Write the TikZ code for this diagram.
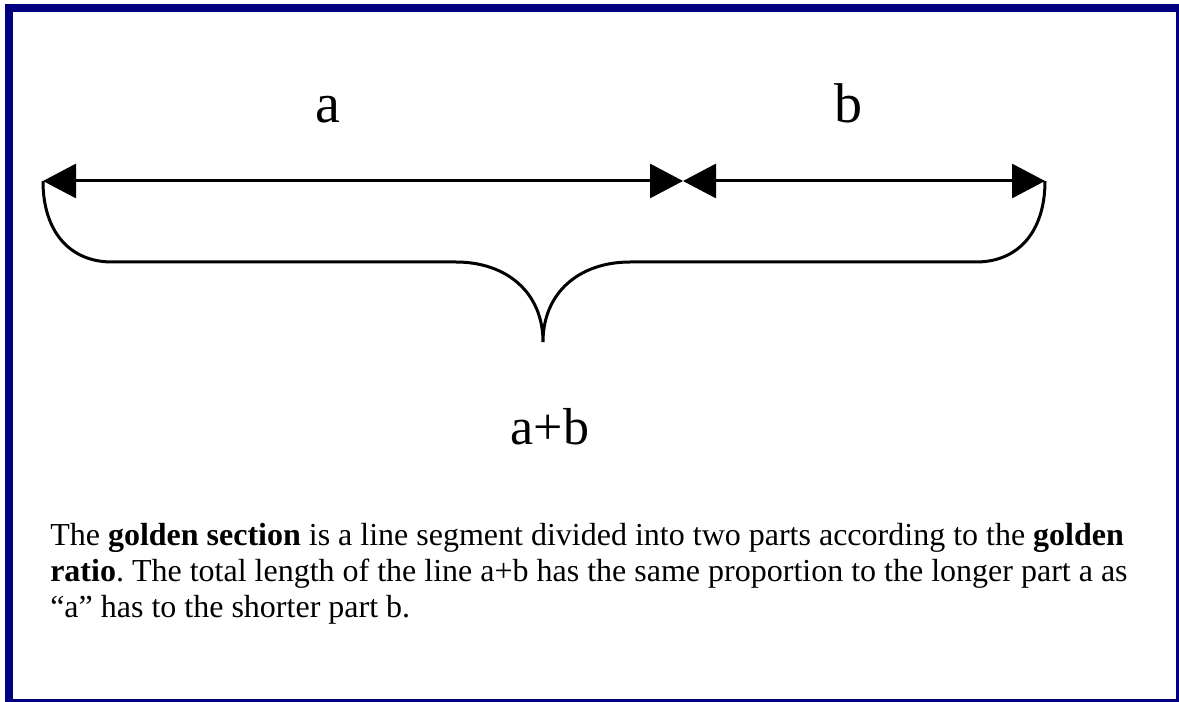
\documentclass[tikz,border=0pt]{standalone}
\usepackage{fontspec}
\setmainfont{Liberation Serif}
\usepackage{xcolor}
\definecolor{framenavy}{RGB}{0, 0, 128}
\usepackage{tikz}
\usetikzlibrary{arrows.meta, positioning}
\frenchspacing

\tikzset{
    dimline/.style={line width=2.25pt, black, {Triangle[length=24.75pt, width=25.5pt]}-{Triangle[length=24.75pt, width=25.5pt]}},
    braceline/.style={line width=2.25pt, black},
    biglabel/.style={anchor=base, inner sep=0pt, font=\fontsize{42}{46}\selectfont},
    paraline/.style={anchor=base west, inner sep=0pt, font=\fontsize{24}{27}\selectfont}
}

\begin{document}
\begin{tikzpicture}[x=0.75pt, y=-0.75pt]
    \useasboundingbox (0,0) rectangle (1179,702);
    % frame
    \fill[framenavy] (5,4) rectangle (1179,702);
    \fill[white] (13,12) rectangle (1176,699);
    % segment ends
    \coordinate (L) at (43,181);
    \coordinate (M) at (683,181);
    \coordinate (R) at (1045,181);
    \coordinate (C) at (543,342);
    \draw[dimline] (L) -- (M);
    \draw[dimline] (M) -- (R);
    % brace
    \draw[braceline] (L) .. controls (43,232) and (70,262) .. (112,262) -- (456,262)
        .. controls (506,262) and (543,292) .. (C)
        .. controls (543,292) and (580,262) .. (630,262) -- (976,262)
        .. controls (1018,262) and (1045,232) .. (R);
    % labels
    \node[biglabel] (la) at (328,123) {a};
    \node[biglabel] (lb) at (848,123) {b};
    \node[biglabel, font=\fontsize{39}{43}\selectfont] (lab) at (550,445) {a+b};
    % caption
    \node[paraline] (txtA) at (50,545) {The \textbf{golden section} is a line segment divided into two parts according to the \textbf{golden}};
    \node[paraline] (txtB) at (50,581) {\textbf{ratio}. The total length of the line a+b has the same proportion to the longer part a as};
    \node[paraline] (txtC) at (50,617) {“a” has to the shorter part b.};
\end{tikzpicture}
\end{document}
